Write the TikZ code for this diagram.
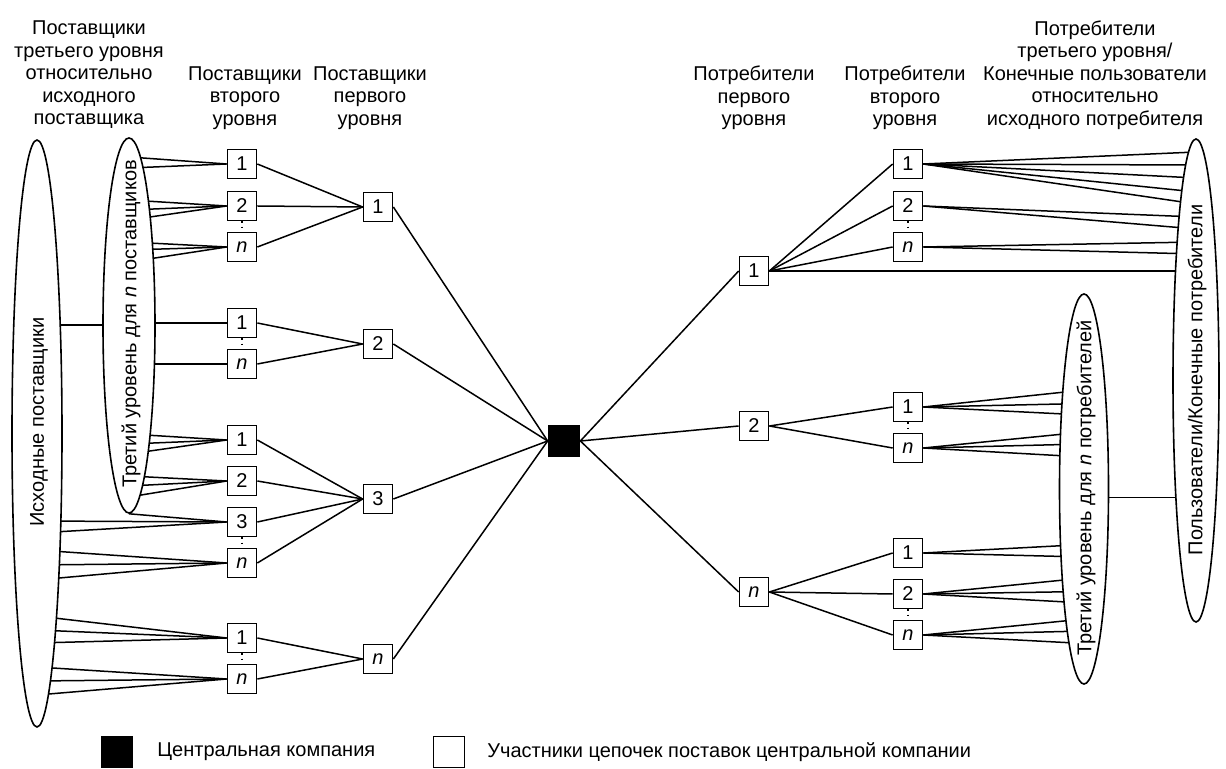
\documentclass[tikz,border=0pt]{standalone}
\usepackage{fontspec}
\setmainfont{Liberation Sans}
\usetikzlibrary{shapes.geometric,backgrounds}
\newcommand\fanL[3]{\foreach \yy in {#3} {\draw[conn] (#2.center |- 0,\yy) -- (#1.west);}}
\newcommand\fanR[3]{\foreach \yy in {#3} {\draw[conn] (#1.east) -- (#2.center |- 0,\yy);}}
\begin{document}
\begin{tikzpicture}[x=0.5pt,y=-0.5pt,
  every node/.style={font=\fontsize{10}{11.25}\selectfont},
  box/.style={draw, line width=0.85pt, minimum width=14.5pt, minimum height=14.5pt, inner sep=0pt, fill=white},
  ell/.style={draw, ellipse, line width=0.8pt, inner sep=0pt, fill=white},
  conn/.style={line width=0.75pt},
  dots/.style={dotted, line width=0.6pt},
  hdr/.style={align=center, inner sep=0pt},
  etext/.style={rotate=90, inner sep=0pt}
]
\useasboundingbox (0,0) rectangle (1226,769);

% ellipses
\node[ell, minimum width=25pt, minimum height=293.5pt] (outL) at (37,433.5) {};
\node[ell, minimum width=26pt, minimum height=187.5pt] (inL) at (129,325.5) {};
\node[ell, minimum width=24.5pt, minimum height=195pt] (inR) at (1084,489) {};
\node[ell, minimum width=23pt, minimum height=241.5pt] (outR) at (1196,380.5) {};
\node[etext] (toutL) at (39,422) {Исходные поставщики};
\node[etext] (tinL) at (131,324) {Третий уровень для \textit{n} поставщиков};
\node[etext] (tinR) at (1086,488) {Третий уровень для \textit{n} потребителей};
\node[etext] (toutR) at (1197,380) {Пользователи/Конечные потребители};

% headers
\node[hdr] (h1) at (89,75) {Поставщики\\третьего уровня\\относительно\\исходного\\поставщика};
\node[hdr] (h2) at (245,98) {Поставщики\\второго\\уровня};
\node[hdr] (h3) at (370,98) {Поставщики\\первого\\уровня};
\node[hdr] (h4) at (754,98) {Потребители\\первого\\уровня};
\node[hdr] (h5) at (905,98) {Потребители\\второго\\уровня};
\node[hdr] (h6) at (1095,75) {Потребители\\третьего уровня/\\Конечные пользователи\\относительно\\исходного потребителя};

% central company
\node[box, fill=black, minimum width=15.5pt, minimum height=15pt] (c) at (564,441) {};

% left first level
\node[box] (L1) at (378,207) {1};
\node[box] (L2) at (378,344) {2};
\node[box] (L3) at (378,499) {3};
\node[box] (Ln) at (378,659) {\textit{n}};
% left second level
\node[box] (A1) at (242,164) {1};
\node[box] (A2) at (242,206) {2};
\node[box] (An) at (242,247) {\textit{n}};
\node[box] (B1) at (242,323) {1};
\node[box] (Bn) at (242,364) {\textit{n}};
\node[box] (C1) at (242,440) {1};
\node[box] (C2) at (242,481) {2};
\node[box] (C3) at (242,522) {3};
\node[box] (Cn) at (242,563) {\textit{n}};
\node[box] (D1) at (242,638) {1};
\node[box] (Dn) at (242,679) {\textit{n}};
% right first level
\node[box] (R1) at (754,271) {1};
\node[box] (R2) at (754,426) {2};
\node[box] (Rn) at (754,592) {\textit{n}};
% right second level
\node[box] (E1) at (908,164) {1};
\node[box] (E2) at (908,206) {2};
\node[box] (En) at (908,247) {\textit{n}};
\node[box] (F1) at (908,407) {1};
\node[box] (Fn) at (908,448) {\textit{n}};
\node[box] (G1) at (908,553) {1};
\node[box] (G2) at (908,594) {2};
\node[box] (Gn) at (908,635) {\textit{n}};

% second -> first level (left)
\foreach \s in {A1,A2,An} {\draw[conn] (\s.east) -- (L1.west);}
\foreach \s in {B1,Bn} {\draw[conn] (\s.east) -- (L2.west);}
\foreach \s in {C1,C2,C3,Cn} {\draw[conn] (\s.east) -- (L3.west);}
\foreach \s in {D1,Dn} {\draw[conn] (\s.east) -- (Ln.west);}
% first level -> centre
\foreach \s in {L1,L2,L3,Ln} {\draw[conn] (\s.east) -- (c.west);}
\foreach \s in {R1,R2,Rn} {\draw[conn] (c.east) -- (\s.west);}
% first -> second level (right)
\foreach \s in {E1,E2,En} {\draw[conn] (R1.east) -- (\s.west);}
\foreach \s in {F1,Fn} {\draw[conn] (R2.east) -- (\s.west);}
\foreach \s in {G1,G2,Gn} {\draw[conn] (Rn.east) -- (\s.west);}

% dotted links between stacked boxes
\draw[dots] (A2.south) -- (An.north);
\draw[dots] (B1.south) -- (Bn.north);
\draw[dots] (C3.south) -- (Cn.north);
\draw[dots] (D1.south) -- (Dn.north);
\draw[dots] (E2.south) -- (En.north);
\draw[dots] (F1.south) -- (Fn.north);
\draw[dots] (G2.south) -- (Gn.north);

% tip of left inner ellipse to box 3
\draw[conn] (inL.south) -- (C3.west);

\begin{pgfonlayer}{background}
  \draw[conn] (outL.center |- 0,325) -- (inL.center |- 0,325);
  \draw[conn] (inR.center |- 0,497.5) -- (outR.center |- 0,497.5);
  \fanL{A1}{inL}{157,168}
  \fanL{A2}{inL}{200,210,220}
  \fanL{An}{inL}{242,250,262}
  \fanL{B1}{inL}{323}
  \fanL{Bn}{inL}{364}
  \fanL{C1}{inL}{434,444,454}
  \fanL{C2}{inL}{476,486,497}
  \fanL{C3}{outL}{521,533}
  \fanL{Cn}{outL}{550,565,580}
  \fanL{D1}{outL}{616,630,643}
  \fanL{Dn}{outL}{667,681,695}
  \fanR{E1}{outR}{152,165,178,192,204}
  \fanR{E2}{outR}{217,229}
  \fanR{En}{outR}{242,254}
  \fanR{R1}{outR}{271}
  \fanR{F1}{inR}{390,403.5,415}
  \fanR{Fn}{inR}{432,444,457}
  \fanR{G1}{inR}{544.5,557}
  \fanR{G2}{inR}{578,591.5,603}
  \fanR{Gn}{inR}{619,631,643.5}
\end{pgfonlayer}

% legend
\node[box, fill=black, minimum width=15.5pt, minimum height=15.5pt] (lg1) at (117,752) {};
\node[anchor=west, inner sep=0pt] (lt1) at (157,752) {Центральная компания};
\node[box, minimum width=15.5pt, minimum height=15.5pt] (lg2) at (449,752) {};
\node[anchor=west, inner sep=0pt] (lt2) at (487,752) {Участники цепочек поставок центральной компании};
\end{tikzpicture}
\end{document}
